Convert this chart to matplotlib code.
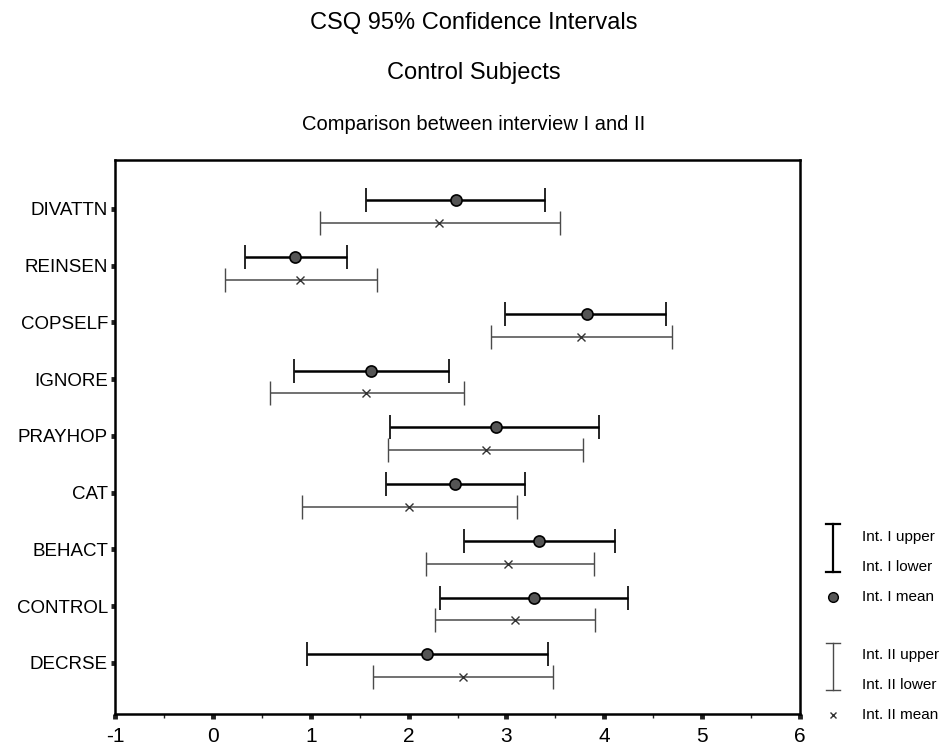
import matplotlib
matplotlib.use("Agg")
import matplotlib.pyplot as plt
import numpy as np
from matplotlib.lines import Line2D

plt.rcParams['font.family'] = ['Liberation Sans', 'DejaVu Sans']

categories = ["DIVATTN", "REINSEN", "COPSELF", "IGNORE", "PRAYHOP",
              "CAT", "BEHACT", "CONTROL", "DECRSE"]
int1_lower = [1.57, 0.33, 2.99, 0.83, 1.81, 1.77, 2.57, 2.32, 0.96]
int1_mean  = [2.48, 0.84, 3.82, 1.62, 2.89, 2.47, 3.33, 3.28, 2.19]
int1_upper = [3.39, 1.37, 4.63, 2.41, 3.95, 3.19, 4.11, 4.24, 3.42]
int2_lower = [1.09, 0.12, 2.84, 0.58, 1.79, 0.91, 2.18, 2.27, 1.64]
int2_mean  = [2.31, 0.89, 3.76, 1.57, 2.79, 2.00, 3.02, 3.09, 2.56]
int2_upper = [3.55, 1.68, 4.69, 2.57, 3.78, 3.11, 3.89, 3.90, 3.48]
x_ticks = [-1, 0, 1, 2, 3, 4, 5, 6]
legend_labels = ["Int. I upper", "Int. I lower", "Int. I mean",
                 "Int. II upper", "Int. II lower", "Int. II mean"]

W, H = 947, 751
fig = plt.figure(figsize=(W / 100, H / 100), dpi=100)
fig.patch.set_facecolor('white')

ax = fig.add_axes([115 / W, 1 - 714 / H, (800 - 115) / W, (714 - 160) / H])

pos = np.arange(len(categories))
m1 = np.array(int1_mean); l1 = np.array(int1_lower); u1 = np.array(int1_upper)
m2 = np.array(int2_mean); l2 = np.array(int2_lower); u2 = np.array(int2_upper)

ax.errorbar(m1, pos - 0.15, xerr=[m1 - l1, u1 - m1], fmt='o',
            color='black', ecolor='black', elinewidth=1.8, capsize=8.5,
            capthick=1.8, markersize=8, markerfacecolor='#555555',
            markeredgecolor='black', markeredgewidth=1.2, zorder=3)
ax.errorbar(m2, pos + 0.25, xerr=[m2 - l2, u2 - m2], fmt='x',
            color='#333333', ecolor='#4a4a4a', elinewidth=1.1, capsize=8.5,
            capthick=1.1, markersize=6, markeredgewidth=1.0, zorder=3)

ax.set_xlim(-1, 6)
ax.set_ylim(8.9, -0.86)
ax.set_xticks(x_ticks)
ax.set_xticklabels([str(t) for t in x_ticks], fontsize=15)
ax.set_xticks(np.arange(-0.5, 6, 1.0), minor=True)
ax.set_yticks(pos)
ax.set_yticklabels(categories, fontsize=13.5)
ax.tick_params(axis='x', which='major', direction='out', length=3.5,
               width=3.5, pad=6, color='#222222')
ax.tick_params(axis='x', which='minor', direction='out', length=3,
               width=1.0, color='#222222')
ax.tick_params(axis='y', which='major', direction='out', length=3,
               width=3.5, pad=2, color='#222222')
for s in ax.spines.values():
    s.set_linewidth(1.8)
    s.set_color('black')

fig.text(0.5, 1 - 23 / H, "CSQ 95% Confidence Intervals", ha='center',
         va='center', fontsize=17)
fig.text(0.5, 1 - 73 / H, "Control Subjects", ha='center', va='center',
         fontsize=17)
fig.text(0.5, 1 - 125 / H, "Comparison between interview I and II",
         ha='center', va='center', fontsize=14.5)

# legend (drawn in pixel coordinates)
lax = fig.add_axes([0, 0, 1, 1], facecolor='none')
lax.set_xlim(0, W)
lax.set_ylim(H, 0)
lax.axis('off')
gx = 833
for (y0, y1, lw, col) in [(524, 572, 1.6, 'black'), (643, 690, 1.0, '#4a4a4a')]:
    lax.add_line(Line2D([gx, gx], [y0, y1], lw=lw, color=col))
    lax.add_line(Line2D([gx - 7, gx + 7], [y0, y0], lw=lw, color=col))
    lax.add_line(Line2D([gx - 7, gx + 7], [y1, y1], lw=lw, color=col))
lax.plot([gx], [597], 'o', ms=7, mfc='#555555', mec='black', mew=1.0)
lax.plot([gx], [715], 'x', ms=5, color='#333333', mew=1.0)
ys = [537, 567, 597, 655, 685, 715]
for lab, y in zip(legend_labels, ys):
    lax.text(862, y, lab, fontsize=11, va='center', ha='left')

fig.savefig("out.png", dpi=100)
